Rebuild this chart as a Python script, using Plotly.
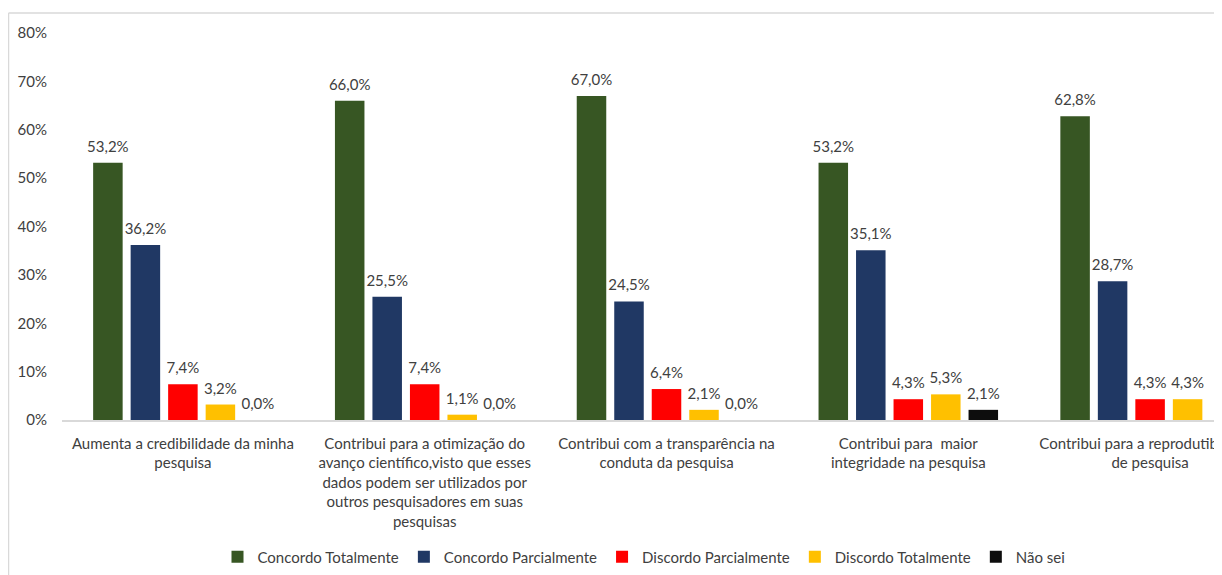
import plotly.graph_objects as go

categories = [
    "Aumenta a credibilidade da minha<br>pesquisa",
    "Contribui para a otimização do<br>avanço científico,visto que esses<br>dados podem ser utilizados por<br>outros pesquisadores em suas<br>pesquisas",
    "Contribui com a transparência na<br>conduta da pesquisa",
    "Contribui para  maior<br>integridade na pesquisa",
    "Contribui para a reprodutibilidade<br>de pesquisa",
]
series_names = ["Concordo Totalmente", "Concordo Parcialmente", "Discordo Parcialmente",
                "Discordo Totalmente", "Não sei"]
concordo_totalmente = [53.2, 66.0, 67.0, 53.2, 62.8]
concordo_parcialmente = [36.2, 25.5, 24.5, 35.1, 28.7]
discordo_parcialmente = [7.4, 7.4, 6.4, 4.3, 4.3]
discordo_totalmente = [3.2, 1.1, 2.1, 5.3, 4.3]
nao_sei = [0.0, 0.0, 0.0, 2.1, 0.0]
colors = ["#375623", "#203864", "#FF0000", "#FFC000", "#0D0D0D"]
y_ticks = [0, 10, 20, 30, 40, 50, 60, 70, 80]
y_ticktext = [f"{v}%" for v in y_ticks]

# the page has an 8px body margin, so the figure is laid out 8px smaller
W, H = 1214, 567
ML, MR, MT, MB = 54, 0, 25, 155
FONT = "Lato, Calibri, Carlito, sans-serif"
FS = 15
TXT = "#404040"
BARGAP = 0.2245

xs = list(range(len(categories)))
all_series = [concordo_totalmente, concordo_parcialmente, discordo_parcialmente,
              discordo_totalmente, nao_sei]

fig = go.Figure()
for name, vals, col in zip(series_names, all_series, colors):
    fig.add_trace(go.Bar(
        x=xs, y=vals, name=name, offsetgroup=name,
        marker=dict(color=col, line=dict(width=0)),
        cliponaxis=False,
    ))
# data labels, grouped the same way as the bars
for name, vals in zip(series_names, all_series):
    fig.add_trace(go.Scatter(
        x=xs, y=vals, mode="markers+text", offsetgroup=name,
        text=[f"{v:.1f}%".replace(".", ",") for v in vals],
        textposition="top center",
        textfont=dict(size=FS, color=TXT, family=FONT),
        marker=dict(size=10, opacity=0),
        showlegend=False, hoverinfo="skip", cliponaxis=False,
    ))

plot_w = W - ML - MR
plot_h = H - MT - MB
cat_px = 241.8
x_end = -0.5 + plot_w / cat_px

fig.update_layout(
    width=W, height=H,
    margin=dict(l=ML, r=MR, t=MT, b=MB, pad=0),
    paper_bgcolor="white", plot_bgcolor="white",
    barmode="group", bargap=BARGAP, bargroupgap=0.213,
    scattermode="group", scattergap=BARGAP,
    separators=",.",
    font=dict(family=FONT, size=FS, color=TXT),
    showlegend=True,
    legend=dict(orientation="h", x=(636 - ML) / plot_w, xanchor="center",
                y=(412 - 549) / plot_h, yanchor="middle",
                font=dict(size=FS, color=TXT, family=FONT),
                itemwidth=30, traceorder="normal"),
    xaxis=dict(
        tickmode="array", tickvals=xs, ticktext=categories,
        range=[-0.5, x_end], showgrid=False, zeroline=False,
        showline=True, linecolor="#D9D9D9", linewidth=1.5,
        ticks="", automargin=False, ticklabeloverflow="allow",
        ticklabelstandoff=9,
        tickfont=dict(size=FS, color=TXT, family=FONT), tickangle=0,
    ),
    yaxis=dict(
        range=[0, 80], tickmode="array", tickvals=y_ticks, ticktext=y_ticktext,
        showgrid=False, zeroline=False, showline=False, ticks="", automargin=False,
        ticklabelstandoff=14,
        tickfont=dict(size=FS, color=TXT, family=FONT),
    ),
)

# chart border (light gray, top and left visible)
bx = (0.5 - ML) / plot_w
by_top = 1 + (MT - 5) / plot_h
fig.add_shape(type="line", xref="paper", yref="paper", x0=bx, x1=1.1, y0=by_top, y1=by_top,
              line=dict(color="#D9D9D9", width=1.5), layer="above")
fig.add_shape(type="line", xref="paper", yref="paper", x0=bx, x1=bx, y0=by_top, y1=-1,
              line=dict(color="#D9D9D9", width=1.5), layer="above")

fig.write_html("out.html")
